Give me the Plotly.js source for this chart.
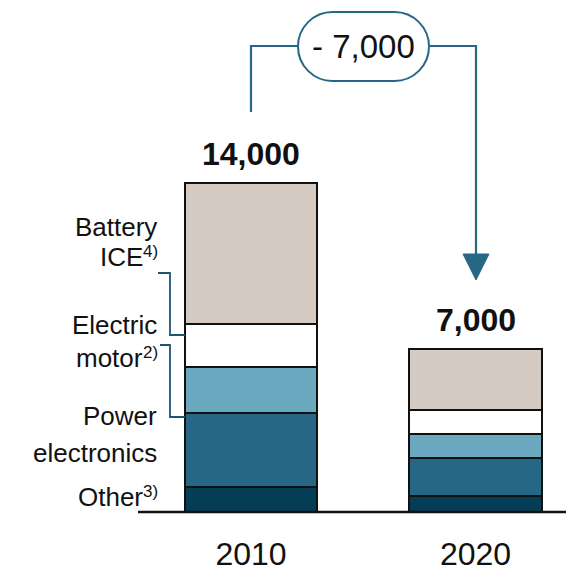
<!DOCTYPE html>
<html>
<head>
<meta charset="utf-8">
<script src="https://cdn.plot.ly/plotly-3.0.1.min.js"></script>
<style>html,body{margin:0;padding:0;background:#fff;}#chart{width:570px;height:577px;}</style>
</head>
<body>
<div id="chart"></div>
<script>
// ---- data ----
const categories = ['2010', '2020'];
const other   = [1050, 680];
const power   = [3150, 1620];
const motor   = [1950, 1020];
const ice     = [1870, 1020];
const battery = [5980, 2580];
const totalLabels = [14000, 7000];
const segmentNames = ['Other', 'Power electronics', 'Electric motor', 'ICE', 'Battery'];

// ---- layout helpers (pixel -> paper) ----
const W = 570, H = 577, T = 42, B = 65;
const PH = H - T - B;
const px = x => x / W;
const py = y => (H - B - y) / PH;

const FONT = '"Liberation Sans Narrow", "Arial Narrow", "Liberation Sans", Arial, sans-serif';
const colors = ['#053d57', '#276786', '#6ba9c0', '#ffffff', '#d5cbc3'];
const series = [other, power, motor, ice, battery];

const traces = series.map((vals, i) => ({
  type: 'bar',
  name: segmentNames[i],
  x: categories,
  y: vals,
  width: [0.59, 0.59],
  marker: {color: colors[i], line: {color: '#111111', width: 2}},
  hoverinfo: 'skip'
}));

const sums = categories.map((c, j) => series.reduce((s, arr) => s + arr[j], 0));
const fmt = v => v.toLocaleString('en-US');

const annotations = [];
categories.forEach((c, j) => {
  annotations.push({
    x: j, y: sums[j], xref: 'x', yref: 'y', showarrow: false,
    text: '<b>' + fmt(totalLabels[j]) + '</b>',
    xanchor: 'center', yanchor: 'middle', yshift: 29,
    font: {family: FONT, size: 32, color: '#111'}
  });
});

// difference pill text
annotations.push({
  x: px(363.5), y: py(47), xref: 'paper', yref: 'paper', showarrow: false,
  text: '- ' + fmt(totalLabels[0] - totalLabels[1]),
  xanchor: 'center', yanchor: 'middle',
  font: {family: FONT, size: 33, color: '#111'}
});

// left category labels: [text, y-center, superscript]
const leftLabels = [
  ['Battery', 227, ''],
  ['ICE', 257, '4)'],
  ['Electric', 325, ''],
  ['motor', 358, '2)'],
  ['Power', 416, ''],
  ['electronics', 453, ''],
  ['Other', 497, '3)']
];
const SUPW = 15;
leftLabels.forEach(([t, y, s]) => {
  annotations.push({
    x: px(s ? 160 - SUPW : 159), y: py(y), xref: 'paper', yref: 'paper', showarrow: false,
    text: t, xanchor: 'right', yanchor: 'middle',
    font: {family: FONT, size: 26, color: '#111'}
  });
  if (s) {
    annotations.push({
      x: px(160 - SUPW - 4), y: py(y - 6), xref: 'paper', yref: 'paper', showarrow: false,
      text: s, xanchor: 'left', yanchor: 'middle',
      font: {family: FONT, size: 17, color: '#111'}
    });
  }
});

const teal = '#276786';
const dark = '#1d5670';
const seg = (x0, y0, x1, y1, col, w) => ({
  type: 'line', xref: 'paper', yref: 'paper',
  x0: px(x0), y0: py(y0), x1: px(x1), y1: py(y1),
  line: {color: col, width: w}
});
const pathShape = (pts, col, w, fill) => ({
  type: 'path', xref: 'paper', yref: 'paper',
  path: pts, line: {color: col, width: w}, fillcolor: fill || 'rgba(0,0,0,0)'
});

// stadium pill
const pl = 298, pr = 429, pt = 12, pb = 81;
const r = (pb - pt) / 2, k = 0.5523 * r;
const P = (x, y) => px(x) + ',' + py(y);
const pillPath = 'M' + P(pl + r, pt) + ' L' + P(pr - r, pt) +
  ' C' + P(pr - r + k, pt) + ' ' + P(pr, pt + r - k) + ' ' + P(pr, pt + r) +
  ' C' + P(pr, pt + r + k) + ' ' + P(pr - r + k, pb) + ' ' + P(pr - r, pb) +
  ' L' + P(pl + r, pb) +
  ' C' + P(pl + r - k, pb) + ' ' + P(pl, pt + r + k) + ' ' + P(pl, pt + r) +
  ' C' + P(pl, pt + r - k) + ' ' + P(pl + r - k, pt) + ' ' + P(pl + r, pt) + ' Z';

const shapes = [
  // baseline
  seg(138, 512, 566, 512, '#111111', 2.5),
  // brackets
  pathShape('M' + P(158, 273) + ' L' + P(170, 273) + ' L' + P(170, 335) + ' L' + P(185, 335), dark, 1.8),
  pathShape('M' + P(160, 345) + ' L' + P(170, 345) + ' L' + P(170, 417) + ' L' + P(185, 417), dark, 1.8),
  // arrow
  pathShape('M' + P(251, 112) + ' L' + P(251, 46) + ' L' + P(pl, 46), teal, 2.2),
  pathShape('M' + P(pr, 46) + ' L' + P(476, 46) + ' L' + P(476, 256), teal, 2.2),
  pathShape('M' + P(463, 254) + ' L' + P(489, 254) + ' L' + P(476, 280) + ' Z', teal, 1, teal),
  pathShape(pillPath, teal, 2, '#ffffff')
];

const layout = {
  width: W, height: H,
  margin: {l: 0, r: 0, t: T, b: B},
  barmode: 'stack',
  showlegend: false,
  paper_bgcolor: '#ffffff',
  plot_bgcolor: '#ffffff',
  xaxis: {
    type: 'category',
    range: [-251 / 224.5, (570 - 251) / 224.5],
    showgrid: false, zeroline: false, showline: false,
    ticks: '', ticklabelstandoff: 20,
    tickfont: {family: FONT, size: 32, color: '#111'},
    fixedrange: true
  },
  yaxis: {
    range: [0, 20000],
    visible: false,
    fixedrange: true
  },
  annotations: annotations,
  shapes: shapes
};

Plotly.newPlot('chart', traces, layout, {displayModeBar: false, staticPlot: true});
</script>
</body>
</html>
